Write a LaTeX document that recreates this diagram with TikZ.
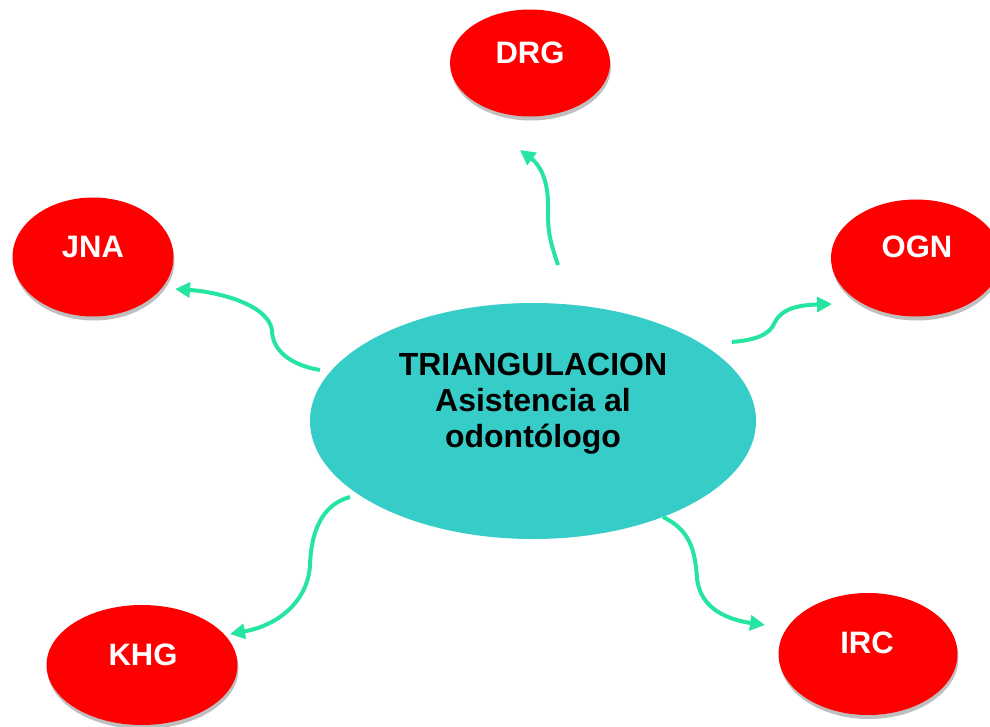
\documentclass[tikz,border=0pt]{standalone}
\usepackage{fontspec}
\setmainfont{Liberation Sans}
\usetikzlibrary{shapes.geometric,arrows.meta,shadows}
\definecolor{redfill}{RGB}{255,0,0}
\definecolor{tealfill}{RGB}{54,204,199}
\definecolor{arrowgreen}{RGB}{38,229,160}
\tikzset{
  redell/.style={ellipse, fill=redfill, inner sep=0pt, draw=none,
    drop shadow={shadow xshift=1pt, shadow yshift=-4pt, opacity=0.25, fill=black}},
  centell/.style={ellipse, fill=tealfill, inner sep=0pt, draw=none},
  redlbl/.style={text=white, font=\bfseries\fontsize{31}{36}\selectfont, inner sep=0pt},
  centlbl/.style={text=black, font=\bfseries\fontsize{32}{36}\selectfont, align=center, inner sep=0pt},
  conn/.style={draw=arrowgreen, line width=4pt, -{Triangle[length=15pt,width=15pt]}}
}
\begin{document}
\begin{tikzpicture}[x=1pt,y=-1pt]
\useasboundingbox (0,0) rectangle (990,727);
% central
\node[centell, minimum width=446pt, minimum height=236pt] (c) at (533,421) {};
\node[centlbl] (ct) at (533,404) {TRIANGULACION\\Asistencia al\\odontólogo};
% outer ellipses
\node[redell, minimum width=160pt, minimum height=107pt] (drg) at (530,63) {};
\node[redlbl] (drgt) at (530,53) {DRG};
\node[redell, minimum width=161pt, minimum height=119pt] (jna) at (93,257) {};
\node[redlbl] (jnat) at (93,247) {JNA};
\node[redell, minimum width=170pt, minimum height=117pt] (ogn) at (916,258) {};
\node[redlbl] (ognt) at (917,247) {OGN};
\node[redell, minimum width=191pt, minimum height=120pt] (khg) at (142,665) {};
\node[redlbl] (khgt) at (143,655) {KHG};
\node[redell, minimum width=179pt, minimum height=122pt] (irc) at (868,654) {};
\node[redlbl] (irct) at (867,643) {IRC};
% connector end points
\coordinate (s1) at (558,265); \coordinate (e1) at (520,150);
\coordinate (s2) at (320,370); \coordinate (e2) at (175,289);
\coordinate (s3) at (732,342); \coordinate (e3) at (832,304);
\coordinate (s4) at (350,497); \coordinate (e4) at (230,634);
\coordinate (s5) at (663,517); \coordinate (e5) at (765,625);
% connectors
\draw[conn] (s1) .. controls (548,235) and (548,230) .. (548,205) .. controls (548,180) and (540,165) .. (e1);
\draw[conn] (s2) .. controls (290,365) and (272,350) .. (272,330) .. controls (268,305) and (220,292) .. (e2);
\draw[conn] (s3) .. controls (755,340) and (770,335) .. (775,322) .. controls (782,308) and (800,305) .. (e3);
\draw[conn] (s4) .. controls (320,505) and (311,535) .. (310,565) .. controls (308,600) and (280,625) .. (e4);
\draw[conn] (s5) .. controls (690,530) and (695,550) .. (697,578) .. controls (700,610) and (730,620) .. (e5);
\end{tikzpicture}
\end{document}
